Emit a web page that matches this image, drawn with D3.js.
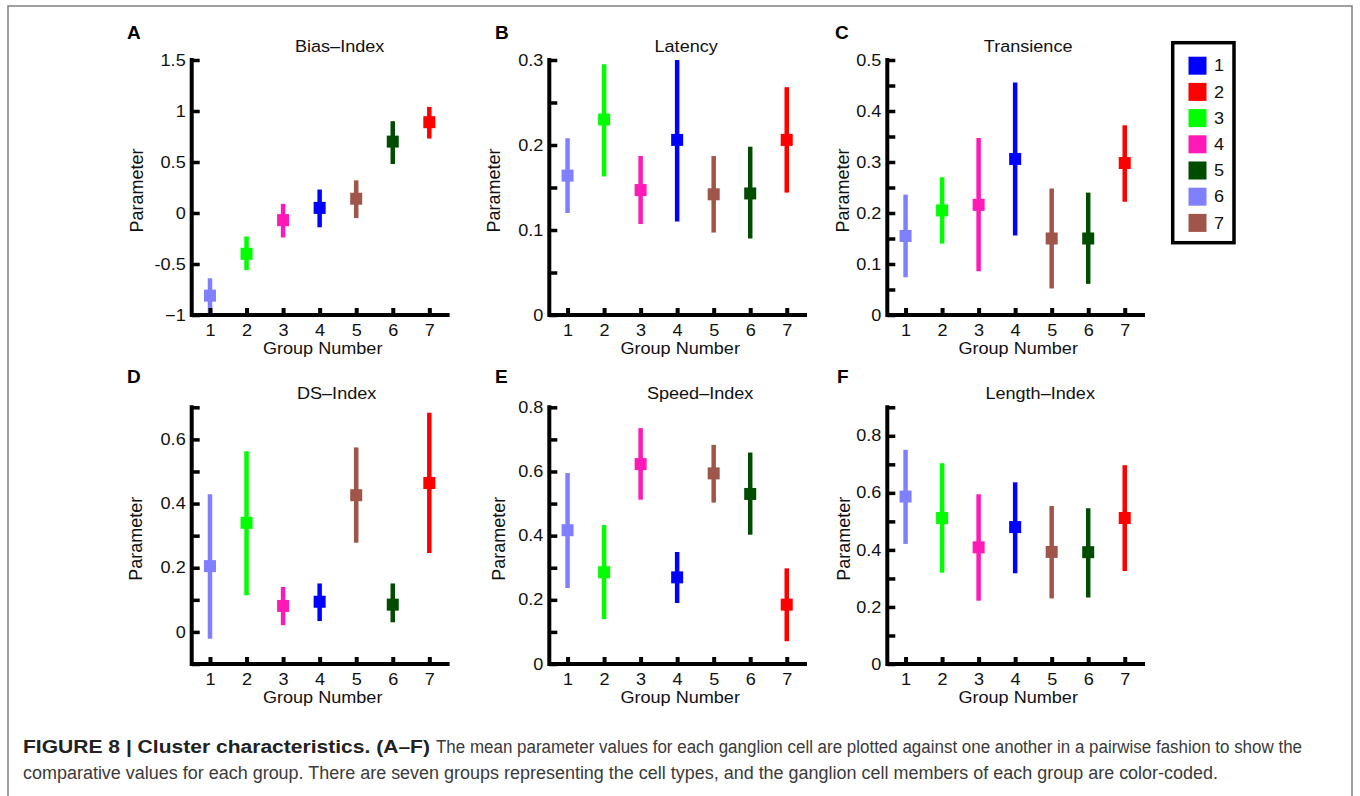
<!DOCTYPE html>
<html>
<head>
<meta charset="utf-8">
<script src="https://cdn.jsdelivr.net/npm/d3@7"></script>
<style>
  html, body { margin: 0; padding: 0; background: #fff; }
  svg { display: block; }
  text { font-family: "Liberation Sans", Arial, Helvetica, sans-serif; }
</style>
</head>
<body>
<svg id="chart" width="1360" height="796"></svg>
<script>
// ---------------- DATA ----------------
const groups = [1, 2, 3, 4, 5, 6, 7];
// cluster (legend id) drawn at each group position
const groupCluster = [6, 3, 4, 1, 7, 5, 2];
const clusterIds = [1, 2, 3, 4, 5, 6, 7];
const clusterColors = ["#0000ff", "#ff0000", "#00ff00", "#ff1ab8", "#004c00", "#8080ff", "#a0554a"];

const panelLetters = ["A", "B", "C", "D", "E", "F"];
const panelTitles = ["Bias\u2013Index", "Latency", "Transience", "DS\u2013Index", "Speed\u2013Index", "Length\u2013Index"];

// Bias-Index
const biasMean = [-0.81, -0.40, -0.07, 0.05, 0.14, 0.70, 0.89];
const biasLow  = [-1.00, -0.56, -0.24, -0.14, -0.05, 0.48, 0.73];
const biasHigh = [-0.64, -0.23, 0.09, 0.23, 0.32, 0.90, 1.04];
// Latency
const latMean = [0.164, 0.230, 0.147, 0.206, 0.142, 0.143, 0.206];
const latLow  = [0.120, 0.163, 0.107, 0.110, 0.097, 0.090, 0.144];
const latHigh = [0.208, 0.295, 0.187, 0.300, 0.187, 0.198, 0.268];
// Transience
const traMean = [0.155, 0.205, 0.216, 0.306, 0.150, 0.150, 0.298];
const traLow  = [0.074, 0.140, 0.086, 0.156, 0.052, 0.061, 0.222];
const traHigh = [0.236, 0.270, 0.347, 0.456, 0.248, 0.240, 0.372];
// DS-Index
const dsMean = [0.205, 0.340, 0.081, 0.094, 0.426, 0.085, 0.464];
const dsLow  = [-0.021, 0.114, 0.021, 0.034, 0.278, 0.030, 0.246];
const dsHigh = [0.429, 0.563, 0.140, 0.151, 0.575, 0.151, 0.683];
// Speed-Index
const spMean = [0.417, 0.286, 0.623, 0.270, 0.594, 0.530, 0.185];
const spLow  = [0.237, 0.140, 0.512, 0.190, 0.503, 0.403, 0.071];
const spHigh = [0.595, 0.433, 0.735, 0.349, 0.683, 0.659, 0.298];
// Length-Index
const lenMean = [0.587, 0.512, 0.409, 0.480, 0.393, 0.392, 0.512];
const lenLow  = [0.421, 0.320, 0.222, 0.318, 0.230, 0.233, 0.326];
const lenHigh = [0.751, 0.704, 0.595, 0.637, 0.554, 0.546, 0.697];

// y-axis domains, tick values and tick labels
const yDomains = [[-1, 1.5], [0, 0.3], [0, 0.5], [-0.1, 0.7], [0, 0.8], [0, 0.9]];
const yTickValues = [
  [-1, -0.5, 0, 0.5, 1, 1.5],
  [0, 0.05, 0.1, 0.15, 0.2, 0.25, 0.3],
  [0, 0.05, 0.1, 0.15, 0.2, 0.25, 0.3, 0.35, 0.4, 0.45, 0.5],
  [-0.1, 0, 0.1, 0.2, 0.3, 0.4, 0.5, 0.6, 0.7],
  [0, 0.1, 0.2, 0.3, 0.4, 0.5, 0.6, 0.7, 0.8],
  [0, 0.1, 0.2, 0.3, 0.4, 0.5, 0.6, 0.7, 0.8, 0.9]
];
const yTickLabels = [
  ["\u22121", "-0.5", "0", "0.5", "1", "1.5"],
  ["0", "", "0.1", "", "0.2", "", "0.3"],
  ["0", "", "0.1", "", "0.2", "", "0.3", "", "0.4", "", "0.5"],
  ["", "0", "", "0.2", "", "0.4", "", "0.6", ""],
  ["0", "", "0.2", "", "0.4", "", "0.6", "", "0.8"],
  ["0", "", "0.2", "", "0.4", "", "0.6", "", "0.8", ""]
];
const xTickLabels = ["1", "2", "3", "4", "5", "6", "7"];
const xLabel = "Group Number";
const yLabel = "Parameter";

const captionBold = "FIGURE 8 | Cluster characteristics. (A\u2013F)";
const captionRest1 = "The mean parameter values for each ganglion cell are plotted against one another in a pairwise fashion to show the";
const captionLine2 = "comparative values for each group. There are seven groups representing the cell types, and the ganglion cell members of each group are color-coded.";

const series = [
  [biasMean, biasLow, biasHigh],
  [latMean, latLow, latHigh],
  [traMean, traLow, traHigh],
  [dsMean, dsLow, dsHigh],
  [spMean, spLow, spHigh],
  [lenMean, lenLow, lenHigh]
];

// ---------------- LAYOUT ----------------
const colX = [[191.7, 447.6], [549.3, 805], [887.3, 1143]];
const rowY = [[60, 315], [407.3, 664]];
const titleDx = [20, 9, 13, 17, 23, 25];
const ylabelDx = [48.4, 49.3, 38, 50, 44.3, 37.3];
const letterX = [127, 495, 835, 127, 495, 837];
const letterBaseline = [39, 383];
const FS = 16;       // chart text size
const SX = 1.13;     // horizontal stretch of chart text
const textColor = "#111";

const svg = d3.select("#chart");
const color = d3.scaleOrdinal().domain(clusterIds).range(clusterColors);

function stext(parent, x, y, str, size, anchor) {
  return parent.append("text")
    .attr("transform", `translate(${x},${y}) scale(${SX},1)`)
    .attr("text-anchor", anchor || "start")
    .attr("font-size", size).attr("fill", textColor)
    .text(str);
}

// frame
svg.append("path")
  .attr("d", "M8,800 L8,6 L1352,6 L1352,800")
  .attr("fill", "none").attr("stroke", "#808080").attr("stroke-width", 1.5);

panelTitles.forEach((title, p) => {
  const col = p % 3, row = Math.floor(p / 3);
  const [x0, x1] = colX[col];
  const [yTop, yBot] = rowY[row];
  const x = d3.scaleLinear().domain([0.5, 7.5]).range([x0, x1]);
  const y = d3.scaleLinear().domain(yDomains[p]).range([yBot, yTop]);
  const g = svg.append("g");
  const [mean, low, high] = series[p];

  // error bars
  const bars = g.append("g").selectAll("g").data(groups).join("g");
  bars.append("line")
    .attr("x1", d => x(d)).attr("x2", d => x(d))
    .attr("y1", (d, i) => y(low[i])).attr("y2", (d, i) => y(high[i]))
    .attr("stroke", (d, i) => color(groupCluster[i]))
    .attr("stroke-width", 4.5);
  bars.append("rect")
    .attr("x", d => x(d) - 6).attr("y", (d, i) => y(mean[i]) - 6)
    .attr("width", 12).attr("height", 12)
    .attr("fill", (d, i) => color(groupCluster[i]));

  // y axis
  const yAxis = d3.axisLeft(y)
    .tickValues(yTickValues[p])
    .tickFormat((d, i) => yTickLabels[p][i])
    .tickSizeInner(-8).tickSizeOuter(0).tickPadding(6);
  const ya = g.append("g").attr("transform", `translate(${x0},0)`).call(yAxis);
  ya.select(".domain").remove();
  ya.selectAll(".tick line").attr("stroke", "#000").attr("stroke-width", 3.5);
  ya.selectAll(".tick text").attr("font-size", FS).attr("fill", textColor)
    .attr("font-family", "Liberation Sans, Arial, sans-serif")
    .each(function () {
      const t = d3.select(this);
      t.attr("x", (+t.attr("x")) / SX).attr("transform", `scale(${SX},1)`);
    });

  // x axis
  const xAxis = d3.axisBottom(x)
    .tickValues(groups)
    .tickFormat((d, i) => xTickLabels[i])
    .tickSizeInner(-7).tickSizeOuter(0).tickPadding(9.6);
  const xa = g.append("g").attr("transform", `translate(0,${yBot})`).call(xAxis);
  xa.select(".domain").remove();
  xa.selectAll(".tick line").attr("stroke", "#000").attr("stroke-width", 4);
  xa.selectAll(".tick text").attr("font-size", FS).attr("fill", textColor)
    .attr("font-family", "Liberation Sans, Arial, sans-serif")
    .attr("transform", `scale(${SX},1)`);

  // axis lines (L-shape)
  g.append("path")
    .attr("d", `M${x0},${yTop} L${x0},${yBot} L${x1},${yBot}`)
    .attr("fill", "none").attr("stroke", "#000").attr("stroke-width", 4)
    .attr("stroke-linecap", "square").attr("stroke-linejoin", "miter");

  // title
  stext(g, (x0 + x1) / 2 + titleDx[p], yTop - 8, title, FS, "middle");

  // axis labels
  stext(g, (x0 + x1) / 2 + 3, yBot + 39, xLabel, FS, "middle");
  g.append("text")
    .attr("transform", `translate(${x0 - ylabelDx[p]},${(yTop + yBot) / 2 + 3}) rotate(-90)`)
    .attr("text-anchor", "middle").attr("font-size", 18).attr("fill", textColor)
    .text(yLabel);

  // panel letter
  g.append("text")
    .attr("x", letterX[p]).attr("y", letterBaseline[row])
    .attr("font-size", 19).attr("font-weight", "bold").attr("fill", "#000")
    .text(panelLetters[p]);
});

// legend
const lg = svg.append("g");
lg.append("rect")
  .attr("x", 1172.7).attr("y", 42.7).attr("width", 61.3).attr("height", 200)
  .attr("fill", "#fff").attr("stroke", "#000").attr("stroke-width", 3.5);
const ly = d3.scalePoint().domain(clusterIds).range([65.7, 222.9]);
const items = lg.selectAll("g.item").data(clusterIds).join("g").attr("class", "item");
items.append("rect")
  .attr("x", 1188.5).attr("y", d => ly(d) - 9).attr("width", 18).attr("height", 18)
  .attr("fill", d => color(d));
items.each(function (d) {
  stext(d3.select(this), 1214, ly(d) + 5.7, d, 16, "start");
});

// caption
svg.append("text").attr("x", 23).attr("y", 753)
  .attr("font-size", 18).attr("font-weight", "bold").attr("fill", "#222")
  .attr("textLength", 407).attr("lengthAdjust", "spacingAndGlyphs")
  .text(captionBold);
svg.append("text").attr("x", 436).attr("y", 753)
  .attr("font-size", 18).attr("fill", "#3a3a3a")
  .attr("textLength", 866).attr("lengthAdjust", "spacingAndGlyphs")
  .text(captionRest1);
svg.append("text").attr("x", 23).attr("y", 779)
  .attr("font-size", 18).attr("fill", "#3a3a3a")
  .attr("textLength", 1195).attr("lengthAdjust", "spacingAndGlyphs")
  .text(captionLine2);
</script>
</body>
</html>
